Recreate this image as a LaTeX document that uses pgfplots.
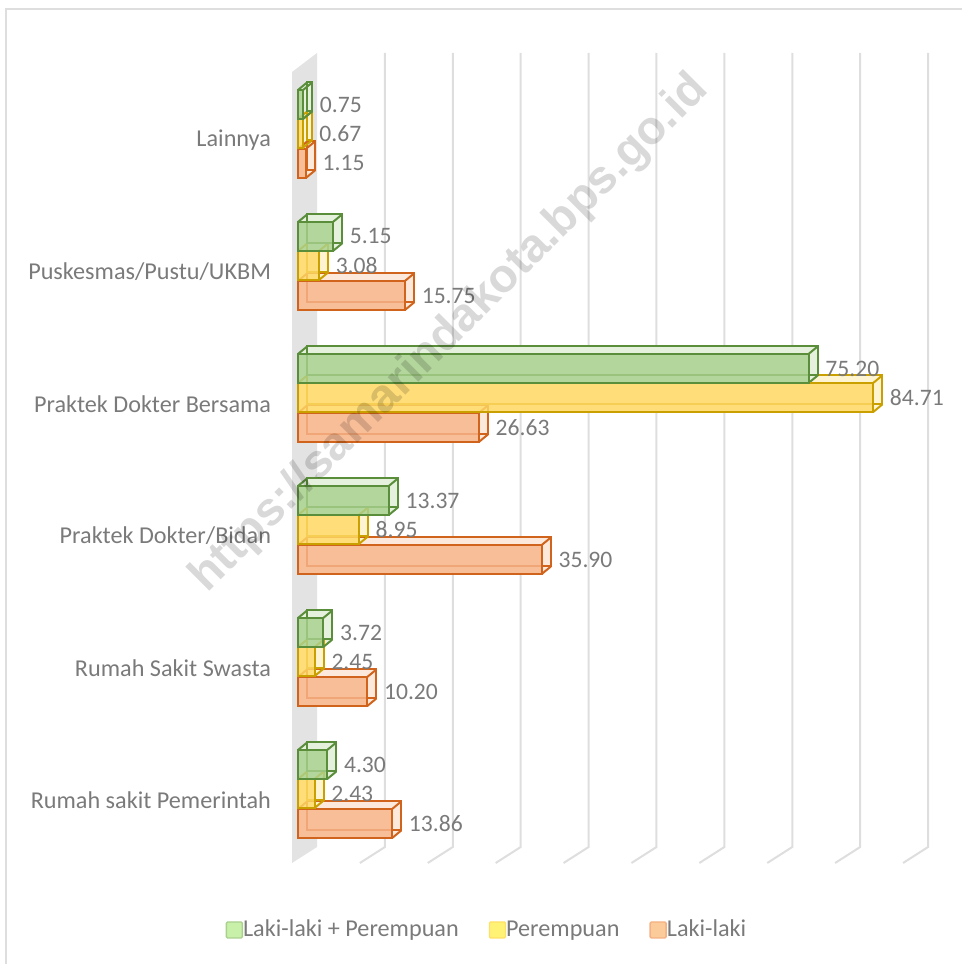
\documentclass[border=0pt]{standalone}
\usepackage{pgfplots}
\pgfplotsset{compat=1.18}
\usepackage{pgfplotstable}
\usepackage{fontspec}
\setmainfont{Carlito}
\setsansfont{Liberation Sans}
\definecolor{gridc}{HTML}{DEDEDE}
\definecolor{wallc}{HTML}{E3E3E3}
\definecolor{txt}{HTML}{7A7A7A}
\definecolor{gF}{HTML}{A9D18E}
\definecolor{gS}{HTML}{5A8E3A}
\definecolor{yF}{HTML}{FFD966}
\definecolor{yS}{HTML}{C9A000}
\definecolor{oF}{HTML}{F8B58A}
\definecolor{oS}{HTML}{D0641C}
\definecolor{gL}{HTML}{C8F0A8}
\definecolor{gLd}{HTML}{A9D18E}
\definecolor{yL}{HTML}{FFF275}
\definecolor{yLd}{HTML}{FFE066}
\definecolor{oL}{HTML}{FBCB99}
\definecolor{oLd}{HTML}{F4B183}
\newcommand\fs{\fontsize{11.8}{14}\selectfont}
\newcommand\fl{\fontsize{12.1}{14}\selectfont}
\pgfplotstableread{
cat lp p l
0 4.30 2.43 13.86
1 3.72 2.45 10.20
2 13.37 8.95 35.90
3 75.20 84.71 26.63
4 5.15 3.08 15.75
5 0.75 0.67 1.15
}\data
\pgfplotsset{
  bars/.style={forget plot, xbar, bar width=0.22},
  side/.style={bars, draw=none, transform canvas={xshift=#1*0.767pt, yshift=#1*0.633pt}},
  backline/.style={bars, fill=none, line width=1pt, transform canvas={xshift=4.6pt, yshift=3.8pt}},
  diag/.style={forget plot, line width=1pt, quiver={u=1.355, v=0.0576}},
}
\begin{document}
\begin{tikzpicture}
\useasboundingbox (0,0) rectangle (481pt,482pt);
\draw[gridc, line width=1pt] (3pt,-10pt) -- (3pt,477.5pt) -- (500pt,477.5pt);
\begin{axis}[
  at={(146pt,50.5pt)}, anchor=south west, scale only axis,
  width=335pt, height=405pt,
  xmin=-0.884, xmax=97.8, ymin=-0.477, ymax=5.659,
  axis line style={draw=none},
  xtick=\empty,
  ytick={0,1,2,3,4,5},
  yticklabels={Rumah sakit Pemerintah, Rumah Sakit Swasta, Praktek Dokter/Bidan, Praktek Dokter Bersama, Puskesmas/Pustu/UKBM, Lainnya},
  major tick length=0pt,
  yticklabel style={font=\fl, text=txt, xshift=-7pt},
  clip=false,
  /pgf/number format/assume math mode=true,
  /pgf/number format/.cd, fixed, precision=2, fixed zerofill, /pgfplots/.cd,
  every node near coord/.append style={font=\fs, text=txt, anchor=west, xshift=4.6pt, text opacity=1, fill opacity=1},
  legend style={at={(0.2925,-0.0827)}, anchor=center, draw=none, fill=none, font=\fl, text=txt,
    legend columns=3, /tikz/every even column/.append style={column sep=13pt},
    /tikz/every odd column/.append style={column sep=-2pt}},
  legend cell align=left,
]
% wall
\fill[wallc] (axis cs:-0.884,5.515) -- (axis cs:2.8,5.659) -- (axis cs:2.8,-0.356) -- (axis cs:-0.884,-0.477) -- cycle;
% gridlines
\pgfplotsinvokeforeach{10,20,30,40,50,60,70,80,90}{
  \draw[gridc, line width=1pt] (axis cs:{#1+2.8},5.659) -- (axis cs:{#1+2.8},-0.356) -- (axis cs:{#1-0.884},-0.477);
}
% side (top/right) faces
\pgfplotsinvokeforeach{1,2,3,4,5,6}{
  \addplot[side=#1, bar shift=-0.178, fill=oF!30!white] table[x=l,y=cat]{\data};
}
\pgfplotsinvokeforeach{1,2,3,4,5,6}{
  \addplot[side=#1, bar shift=0.049, fill=yF!30!white] table[x=p,y=cat]{\data};
}
\pgfplotsinvokeforeach{1,2,3,4,5,6}{
  \addplot[side=#1, bar shift=0.269, fill=gF!30!white] table[x=lp,y=cat]{\data};
}
% back outlines and depth edges
\addplot[backline, bar shift=-0.178, draw=oS] table[x=l,y=cat]{\data};
\addplot[diag, draw=oS] table[x expr=0, y expr=\thisrow{cat}-0.068]{\data};
\addplot[diag, draw=oS] table[x=l, y expr=\thisrow{cat}-0.068]{\data};
\addplot[diag, draw=oS] table[x=l, y expr=\thisrow{cat}-0.288]{\data};
\addplot[backline, bar shift=0.049, draw=yS] table[x=p,y=cat]{\data};
\addplot[diag, draw=yS] table[x expr=0, y expr=\thisrow{cat}+0.159]{\data};
\addplot[diag, draw=yS] table[x=p, y expr=\thisrow{cat}+0.159]{\data};
\addplot[diag, draw=yS] table[x=p, y expr=\thisrow{cat}-0.061]{\data};
\addplot[backline, bar shift=0.269, draw=gS] table[x=lp,y=cat]{\data};
\addplot[diag, draw=gS] table[x expr=0, y expr=\thisrow{cat}+0.379]{\data};
\addplot[diag, draw=gS] table[x=lp, y expr=\thisrow{cat}+0.379]{\data};
\addplot[diag, draw=gS] table[x=lp, y expr=\thisrow{cat}+0.159]{\data};
% front faces
\addplot[bars, bar shift=-0.178, draw=oS, fill=oF, fill opacity=0.82, line width=1pt, nodes near coords, nodes near coords style={yshift=-11.75pt}] table[x=l,y=cat]{\data};
\addplot[bars, bar shift=0.049, draw=yS, fill=yF, fill opacity=0.82, line width=1pt, nodes near coords, nodes near coords style={yshift=3.23pt}] table[x=p,y=cat]{\data};
\addplot[bars, bar shift=0.269, draw=gS, fill=gF, fill opacity=0.82, line width=1pt, nodes near coords, nodes near coords style={yshift=17.76pt}] table[x=lp,y=cat]{\data};
% legend
\addlegendimage{legend image code/.code={\draw[fill=gL,draw=gLd,rounded corners=0.6pt,line width=0.7pt] (0pt,-4pt) rectangle (8pt,4pt);}}
\addlegendentry{Laki-laki + Perempuan}
\addlegendimage{legend image code/.code={\draw[fill=yL,draw=yLd,rounded corners=0.6pt,line width=0.7pt] (0pt,-4pt) rectangle (8pt,4pt);}}
\addlegendentry{Perempuan}
\addlegendimage{legend image code/.code={\draw[fill=oL,draw=oLd,rounded corners=0.6pt,line width=0.7pt] (0pt,-4pt) rectangle (8pt,4pt);}}
\addlegendentry{Laki-laki}
\end{axis}
\node[rotate=45, font=\fontsize{23.5}{28}\selectfont\sffamily\bfseries, text=black, text opacity=0.15] at (225pt,315pt) {https://samarindakota.bps.go.id};
\end{tikzpicture}
\end{document}
